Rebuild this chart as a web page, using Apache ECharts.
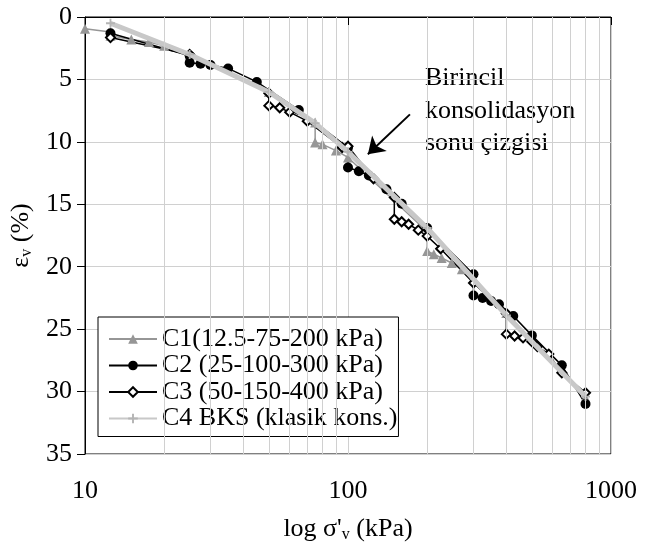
<!DOCTYPE html>
<html>
<head>
<meta charset="utf-8">
<script src="https://cdn.jsdelivr.net/npm/echarts@6/dist/echarts.min.js"></script>
<style>
  html, body { margin: 0; padding: 0; background: #fff; }
  #main { width: 648px; height: 542px; }
</style>
</head>
<body>
<div id="main"></div>
<script>
// [sigma'v (kPa), eps_v (%)]
var c1Data = [[10,0.95],[12.5,1.2],[12.5,1.5],[15,1.8],[17.5,2.0],[20,2.3],[25,3.0],[50,6.0],[75,8.45],[75,10.05],[80,10.2],[90,10.7],[100,11.25],[200,17.2],[200,18.75],[212,19.0],[227,19.3],[248,19.7],[271,20.2],[300,20.9],[400,23.7],[800,30.5]];
var c2Data = [[12.5,1.3],[25,3.1],[25,3.67],[27.5,3.75],[30,3.85],[35,4.12],[45,5.2],[65,7.45],[100,10.45],[100,12.05],[110,12.35],[120,12.7],[140,13.8],[160,14.95],[200,16.9],[300,20.6],[300,22.3],[325,22.5],[350,22.75],[375,23.0],[425,23.95],[500,25.5],[650,27.9],[800,31.0]];
var c3Data = [[12.5,1.65],[25,3.0],[50,6.1],[50,7.1],[55,7.27],[60,7.62],[70,8.34],[95,10.45],[100,10.35],[125,12.96],[150,14.45],[150,16.2],[160,16.4],[170,16.6],[185,17.07],[200,17.55],[225,18.56],[300,21.3],[400,23.75],[400,25.4],[430,25.55],[463,25.7],[500,26.0],[525,26.4],[580,27.0],[650,28.5],[800,30.1]];
var c4Data = [[12.5,0.5],[25,3.0],[50,6.0],[75,8.5],[100,10.8],[200,16.9],[400,23.9],[800,30.4]];
var seriesNames = ['C1(12.5-75-200 kPa)', 'C2 (25-100-300 kPa)', 'C3 (50-150-400 kPa)', 'C4 BKS (klasik kons.)'];
var minorGrid = [20,30,40,50,60,70,80,90,200,300,400,500,600,700,800,900];
var arrowFrom = [172, 7.8];
var arrowTo = [119, 11.0];
var noteLines = ['Birincil', 'konsolidasyon', 'sonu çizgisi'];

var font = 'Liberation Serif';
var fs = 26;
var plusPath = 'path://M4,0H6V4H10V6H6V10H4V6H0V4H4Z';

var myChart = echarts.init(document.getElementById('main'), null, {renderer: 'canvas'});

var option = {
  animation: false,
  backgroundColor: '#fff',
  grid: {
    left: 85, right: 37, top: 17, bottom: 88,
    containLabel: false, outerBoundsMode: 'none',
    show: true, borderColor: '#000', borderWidth: 1
  },
  legend: {
    orient: 'vertical',
    left: 98, top: 317,
    itemWidth: 48, itemHeight: 12, itemGap: 0.5,
    padding: [9, 1, 5, 10],
    borderColor: '#000', borderWidth: 1,
    backgroundColor: '#fff',
    textStyle: { fontFamily: font, fontSize: fs, color: '#000' },
    data: seriesNames
  },
  xAxis: {
    type: 'log', logBase: 10, min: 10, max: 1000,
    name: "{a|log σ'}{s|v}{a| (kPa)}",
    nameLocation: 'middle', nameGap: 61,
    nameTextStyle: {
      color: '#000',
      rich: {
        a: { fontFamily: font, fontSize: fs, color: '#000' },
        s: { fontFamily: font, fontSize: 16, color: '#000', padding: [12, 0, 0, 0] }
      }
    },
    axisLine: { lineStyle: { color: '#000', width: 1 } },
    axisTick: { show: true, length: 8, lineStyle: { color: '#000' } },
    axisLabel: {
      fontFamily: font, fontSize: fs, color: '#000', margin: 24,
      formatter: function (v) { return String(v); }
    },
    splitLine: { show: true, lineStyle: { color: '#d0d0d0', width: 1 } }
  },
  yAxis: {
    type: 'value', inverse: true, min: 0, max: 35, interval: 5,
    name: '{a|ε}{s|v}{a| (%)}',
    nameLocation: 'middle', nameGap: 39,
    nameTextStyle: {
      color: '#000',
      rich: {
        a: { fontFamily: font, fontSize: fs, color: '#000' },
        s: { fontFamily: font, fontSize: 16, color: '#000', padding: [12, 0, 0, 0] }
      }
    },
    axisLine: { show: true, lineStyle: { color: '#000', width: 1 } },
    axisTick: { show: true, length: 8, lineStyle: { color: '#000' } },
    axisLabel: { fontFamily: font, fontSize: fs, color: '#000', margin: 13 },
    splitLine: { show: true, lineStyle: { color: '#d0d0d0', width: 1 } }
  },
  graphic: [{
    type: 'group',
    left: 418, top: 58,
    z: 10,
    children: [{
      type: 'rect',
      shape: { x: 0, y: 0, width: 167, height: 109 },
      style: { fill: '#fff' }
    }, {
      type: 'text',
      x: 7, y: 4,
      style: {
        text: noteLines.join('\n'),
        font: fs + 'px "Liberation Serif"',
        fill: '#000',
        lineHeight: 32.5
      }
    }]
  }],
  series: [{
    name: 'grid-minor',
    type: 'line',
    data: [],
    z: 1,
    silent: true,
    markLine: {
      silent: true,
      symbol: ['none', 'none'],
      label: { show: false },
      lineStyle: { color: '#d0d0d0', type: 'solid', width: 1 },
      data: minorGrid.map(function (v) { return { xAxis: v }; })
    }
  }, {
    name: seriesNames[0],
    type: 'line',
    data: c1Data,
    z: 3,
    symbol: 'triangle', symbolSize: 10,
    lineStyle: { color: '#969696', width: 1.5 },
    itemStyle: { color: '#969696' }
  }, {
    name: seriesNames[1],
    type: 'line',
    data: c2Data,
    z: 3,
    symbol: 'circle', symbolSize: 10,
    lineStyle: { color: '#000', width: 1.5 },
    itemStyle: { color: '#000' }
  }, {
    name: seriesNames[2],
    type: 'line',
    data: c3Data,
    z: 3,
    symbol: 'diamond', symbolSize: 9,
    lineStyle: { color: '#000', width: 1.5 },
    itemStyle: { color: '#fff', borderColor: '#000', borderWidth: 2 }
  }, {
    name: seriesNames[3],
    type: 'line',
    data: c4Data,
    z: 4,
    symbol: plusPath, symbolSize: 9,
    lineStyle: { color: '#c8c8c8', width: 5 },
    itemStyle: { color: '#b4b4b4' }
  }, {
    name: 'arrow',
    type: 'line',
    data: [],
    z: 11,
    silent: true,
    markLine: {
      silent: true,
      symbol: ['none', 'arrow'],
      symbolSize: 16,
      label: { show: false },
      lineStyle: { color: '#000', type: 'solid', width: 2 },
      data: [[{ coord: arrowFrom }, { coord: arrowTo }]]
    }
  }]
};
myChart.setOption(option);
</script>
</body>
</html>
